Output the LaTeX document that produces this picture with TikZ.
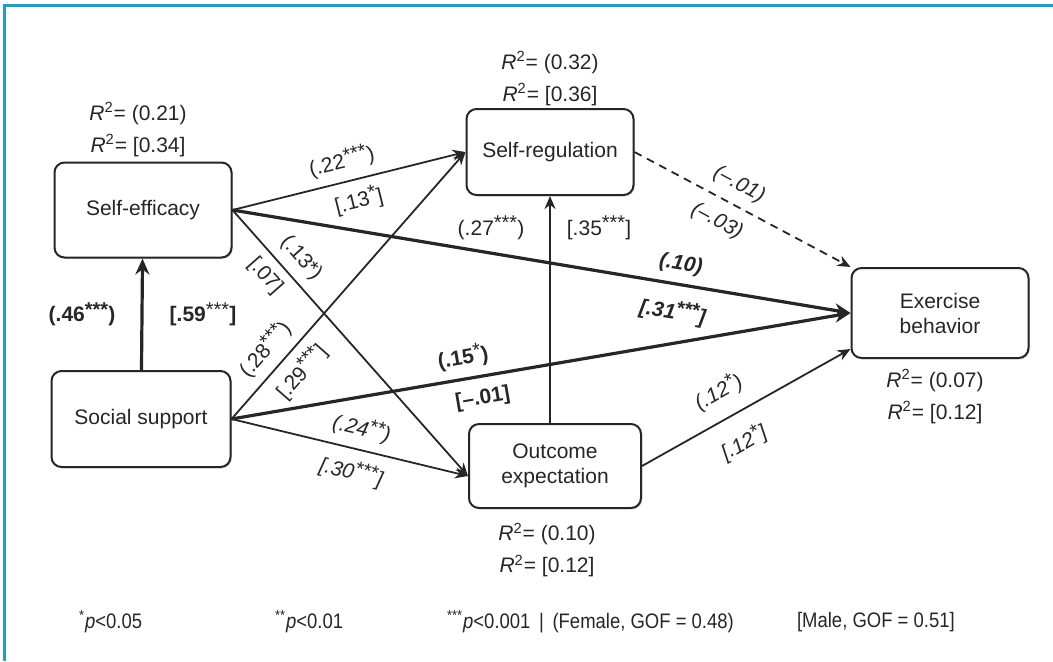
\documentclass[tikz,border=0pt]{standalone}
\usepackage{fontspec}
\setmainfont{Liberation Sans}
\newfontfamily\narrowfont[FakeStretch=0.88]{Liberation Sans}
\usetikzlibrary{arrows.meta}
\usetikzlibrary{shadows}
\definecolor{framecol}{RGB}{42,155,190}
\definecolor{ink}{RGB}{38,38,38}
\newcommand{\sig}[1]{\raisebox{0.25em}{\fontsize{10}{10}\selectfont #1}}

\begin{document}
\begin{tikzpicture}[x=0.5pt,y=-0.5pt]
            \tikzset{every node/.style={font=\fontsize{10.5}{16}\selectfont, text=ink}};
            \tikzset{box/.style={draw=ink, line width=1pt, rounded corners=5pt, fill=white, align=center, inner sep=0pt,
                font=\fontsize{10.5}{12.5}\selectfont,
                drop shadow={shadow xshift=0.7pt, shadow yshift=-0.7pt, opacity=0.3}}};
            \tikzset{line/.style={draw=ink, line width=0.9pt, -{Stealth[length=6.5pt, width=5.5pt]}}};
            \tikzset{heavy/.style={line, line width=1.6pt, -{Stealth[length=8pt, width=7pt]}}};
            \tikzset{rsq/.style={align=center}};
            
            \useasboundingbox (0,0) rectangle (1053,661);
            \draw[framecol, line width=1.5pt] (4,661) -- (4,5) -- (1053,5);
            
            % the five boxes
            \node[box, minimum width=88.5pt, minimum height=47.5pt] (se) at (143,210) {Self-efficacy};
            \node[box, minimum width=83.5pt, minimum height=43pt] (sr) at (550,152) {Self-regulation};
            \node[box, minimum width=88.5pt, minimum height=45pt] (eb) at (940,313) {Exercise\\behavior};
            \node[box, minimum width=89.5pt, minimum height=48pt] (ss) at (141,419) {Social support};
            \node[box, minimum width=86pt, minimum height=42pt] (oe) at (555,466) {Outcome\\expectation};
            
            \coordinate (oein) at ([yshift=-5pt]oe.west);
            \coordinate (ebin) at ([yshift=-18pt]eb.west);
            
            % R squared
            \node[rsq] (rse) at (138,130) {\textit{R}\textsuperscript{2}= (0.21)\\\textit{R}\textsuperscript{2}= [0.34]};
            \node[rsq] (rsr) at (550,79) {\textit{R}\textsuperscript{2}= (0.32)\\\textit{R}\textsuperscript{2}= [0.36]};
            \node[rsq] (reb) at (935,397) {\textit{R}\textsuperscript{2}= (0.07)\\\textit{R}\textsuperscript{2}= [0.12]};
            \node[rsq] (roe) at (547,550) {\textit{R}\textsuperscript{2}= (0.10)\\\textit{R}\textsuperscript{2}= [0.12]};
            
            % paths
            \draw[heavy] (ss) -- (se)
                node[pos=.5, xshift=-30pt] (l46) {\textbf{(.46\sig{***})}}
                node[pos=.5, xshift=30.5pt] (l59) {\textbf{[.59}\sig{***}\textbf{]}};
            \draw[line] (se.east) -- (sr.west)
                node[pos=.49, sloped, above=1pt] (l22) {(.22\sig{***})}
                node[pos=.52, sloped, below=1pt] (l13) {[.13\sig{*}]};
            \draw[heavy] (se.east) -- (eb.west)
                node[pos=.72, sloped, above=1pt] (l10) {\textbf{\textit{(.10)}}}
                node[pos=.72, sloped, below=4pt] (l31) {\textbf{\textit{[.31\sig{***}]}}};
            \draw[line] (se.east) -- (oein)
                node[pos=.23, sloped, above=1pt] (l13b) {(.13*)}
                node[pos=.20, sloped, below=1pt] (l07) {[.07]};
            \draw[line] (ss.east) -- (sr.west)
                node[pos=.21, sloped, above=1pt] (l28) {(.28\sig{***})}
                node[pos=.23, sloped, below=1pt] (l29) {[.29\sig{***}]};
            \draw[heavy] (ss.east) -- (eb.west)
                node[pos=.38, sloped, above=1pt] (l15) {\textbf{(.15}\sig{*}\textbf{)}}
                node[pos=.40, sloped, below=2pt] (l01) {\textbf{[–.01]}};
            \draw[line] (ss.east) -- (oein)
                node[pos=.53, sloped, above=1pt] (l24) {\textit{(.24\sig{**})}}
                node[pos=.53, sloped, below=2pt] (l30) {\textit{[.30\sig{***}]}};
            \draw[line] (oe.north -| sr.south) -- (sr.south)
                node[pos=.86, xshift=-29.5pt] (l27) {(.27\sig{***})}
                node[pos=.86, xshift=24.5pt] (l35) {[.35\sig{***}]};
            \draw[line, dashed, dash pattern=on 4pt off 3pt] (sr.east) -- (eb.north west)
                node[pos=.44, sloped, above=1.5pt] (lm01) {\textit{(–.01)}}
                node[pos=.43, sloped, below=2.5pt] (lm03) {\textit{(–.03)}};
            \draw[line] (oe.east) -- (ebin)
                node[pos=.43, sloped, above=4pt] (l12a) {\textit{(.12\sig{*})}}
                node[pos=.42, sloped, below=5pt] (l12b) {\textit{[.12\sig{*}]}};
            
            % footnote
            \tikzset{foot/.style={anchor=west, font=\narrowfont\fontsize{10.5}{12}\selectfont}};
            \node[foot] (p1) at (72,622) {\textsuperscript{*}\textit{p}<0.05};
            \node[foot] (p2) at (268,622) {\textsuperscript{**}\textit{p}<0.01};
            \node[foot] (p3) at (440,622) {\textsuperscript{***}\textit{p}<0.001 \,|\, (Female, GOF = 0.48)};
            \node[foot] (p4) at (790,622) {[Male, GOF = 0.51]};
\end{tikzpicture}
\end{document}
